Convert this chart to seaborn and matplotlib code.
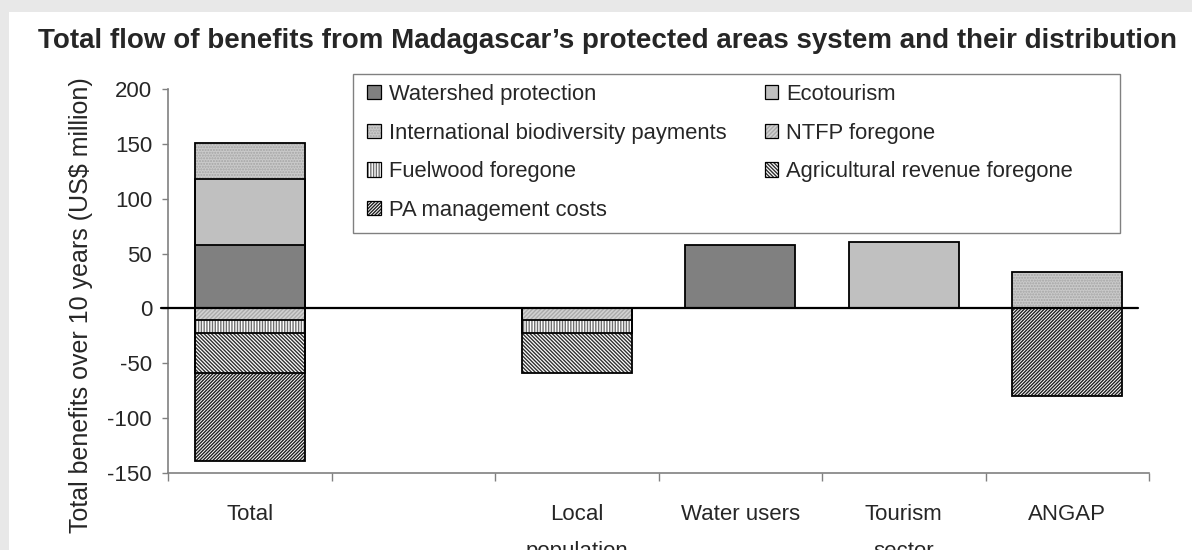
import matplotlib
matplotlib.use("Agg")
import matplotlib.pyplot as plt
from matplotlib.patches import Patch, Rectangle
from matplotlib.ticker import FixedLocator
import numpy as np
import pandas as pd
import seaborn as sns

# data (US$ million over 10 years)
categories = ["Total", " ", "Local\npopulation", "Water users", "Tourism\nsector", "ANGAP"]
watershed = [58, 0, 0, 58, 0, 0]
ecotourism = [60, 0, 0, 0, 61, 0]
intl_payments = [33, 0, 0, 0, 0, 33]
ntfp = [-11, 0, -11, 0, 0, 0]
fuelwood = [-11, 0, -11, 0, 0, 0]
agriculture = [-37, 0, -37, 0, 0, 0]
pa_costs = [-80, 0, 0, 0, 0, -80]

# name, values, face colour, hatch, hatch colour
positive = [
    ("Watershed protection", watershed, "#808080", "", "#808080"),
    ("Ecotourism", ecotourism, "#c0c0c0", "", "#c0c0c0"),
    ("International biodiversity payments", intl_payments, "#cacaca", "......", "#a4a4a4"),
]
negative = [
    ("NTFP foregone", ntfp, "#d2d2d2", "////////", "#ababab"),
    ("Fuelwood foregone", fuelwood, "white", "||||||", "#707070"),
    ("Agricultural revenue foregone", agriculture, "white", "\\\\\\\\\\\\\\\\\\", "#303030"),
    ("PA management costs", pa_costs, "white", "//////////", "#202020"),
]

sns.set_style("white")
plt.rcParams["font.family"] = ["Liberation Sans", "DejaVu Sans"]
plt.rcParams["hatch.linewidth"] = 1.0
plt.rcParams["axes.unicode_minus"] = False

W, H = 1192, 550
fig = plt.figure(figsize=(W / 100, H / 100), dpi=100, facecolor="#e8e8e8")
fig.patches.append(Rectangle((9 / W, 0), 1, 1 - 12 / H, transform=fig.transFigure,
                             facecolor="white", edgecolor="none", zorder=-5))
ax = fig.add_axes([168 / W, 1 - 473 / H, (1149 - 168) / W, (473 - 89) / H])
ax.set_facecolor("none")

width = 0.67
layers = []
for group in (positive, negative):
    cum = np.zeros(len(categories))
    for name, vals, face, hatch, hcol in group:
        vals = np.array(vals, dtype=float)
        cum = cum + vals
        layers.append((name, np.where(vals != 0, cum, np.nan), face, hatch, hcol))

# draw the largest cumulative layer first so the inner segments sit on top
for group_layers in (layers[:3], layers[3:]):
    for name, cum, face, hatch, hcol in reversed(group_layers):
        df = pd.DataFrame({"cat": categories, "val": cum})
        sns.barplot(data=df, x="cat", y="val", order=categories, color=face,
                    saturation=1, width=width, errorbar=None, ax=ax,
                    hatch=hatch, edgecolor=hcol, linewidth=0)

# black outlines of every segment
for name, cum, face, hatch, hcol in layers:
    df = pd.DataFrame({"cat": categories, "val": cum})
    sns.barplot(data=df, x="cat", y="val", order=categories, fill=False,
                width=width, errorbar=None, ax=ax, edgecolor="black", linewidth=1.3)

ax.plot([-0.54, 5.43], [0, 0], color="black", lw=1.6, zorder=5, clip_on=False)

ax.set_xlim(-0.5, len(categories) - 0.5)
ax.set_ylim(-150, 200)
ax.set_yticks(range(-150, 201, 50))
ax.set_xlabel("")
ax.set_ylabel("")
for side in ("top", "right"):
    ax.spines[side].set_visible(False)
for side in ("left", "bottom"):
    ax.spines[side].set_color("#808080")
    ax.spines[side].set_linewidth(1.2)
ax.tick_params(axis="y", direction="out", length=4.5, width=1.0, color="#808080",
               pad=7, labelsize=16, left=True)
ax.tick_params(axis="x", which="major", length=0, pad=22, labelsize=16)
ax.xaxis.set_minor_locator(FixedLocator(np.arange(-0.5, len(categories), 1.0)))
ax.tick_params(axis="x", which="minor", direction="out", length=6, width=1.0,
               color="#808080", bottom=True)
for lab in ax.get_xticklabels():
    lab.set_linespacing(2.0)

fig.text(607.5 / W, 1 - 48 / H,
         "Total flow of benefits from Madagascar\u2019s protected areas system and their distribution",
         ha="center", va="baseline", fontsize=20, fontweight="bold")
fig.text(81 / W, 1 - 305 / H, "Total benefits over 10 years (US$ million)",
         rotation=90, ha="center", va="center", fontsize=18)

# legend: two columns, frame drawn separately so its size matches the reference
fig.patches.append(Rectangle((353 / W, 1 - 233 / H), (1120 - 353) / W, (233 - 74) / H,
                             transform=fig.transFigure, facecolor="white",
                             edgecolor="#808080", linewidth=1.0, zorder=3))
order = [0, 2, 4, 6, 1, 3, 5]
handles, labels = [], []
for i in order:
    name, cum, face, hatch, hcol = layers[i]
    fill = Patch(facecolor=face, hatch=hatch, edgecolor=hcol, linewidth=0)
    edge = Patch(facecolor="none", edgecolor="black", linewidth=0.9)
    handles.append((fill, edge))
    labels.append(name)
leg = fig.legend(handles, labels, ncol=2, loc="upper left",
                 bbox_to_anchor=(367 / W, 1 - 84 / H), borderaxespad=0, borderpad=0,
                 fontsize=15.8, frameon=False, handlelength=0.63, handleheight=0.63,
                 handletextpad=0.36, labelspacing=0.8, columnspacing=1.74)
leg.set_zorder(4)

fig.savefig("out.png", dpi=100, facecolor=fig.get_facecolor())
